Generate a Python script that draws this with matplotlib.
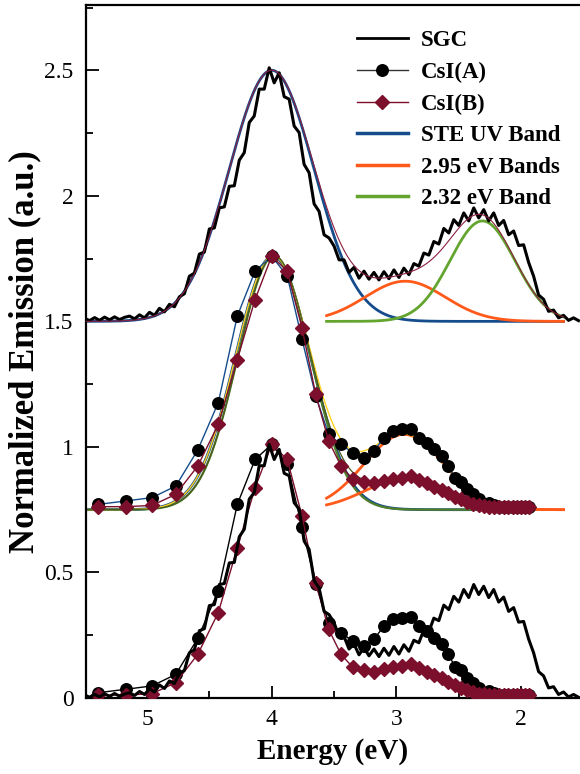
import matplotlib
matplotlib.use("Agg")
import matplotlib.pyplot as plt
import numpy as np
from matplotlib.ticker import MultipleLocator

plt.rcParams['font.family'] = ['Liberation Serif', 'DejaVu Serif']

# SGC spectrum (normalized, no offset), sampled from 5.50 eV down to 1.54 eV
sgc_values = [
    0.012, 0.003, 0.015, 0.004, 0.017, 0.006, 0.018, 0.007, 0.016, 0.021,
    0.010, 0.026, 0.014, 0.036, 0.024, 0.052, 0.038, 0.068, 0.058, 0.098,
    0.110, 0.180, 0.192, 0.268, 0.276, 0.368, 0.372, 0.452, 0.456, 0.538,
    0.540, 0.642, 0.672, 0.792, 0.818, 0.925, 0.925, 1.010, 0.950, 0.990,
    0.895, 0.885, 0.778, 0.752, 0.625, 0.592, 0.468, 0.438, 0.345, 0.332,
    0.300, 0.245, 0.245, 0.195, 0.215, 0.172, 0.200, 0.168, 0.195, 0.165,
    0.198, 0.170, 0.205, 0.175, 0.212, 0.186, 0.230, 0.220, 0.272, 0.264,
    0.318, 0.308, 0.370, 0.352, 0.405, 0.382, 0.432, 0.400, 0.452, 0.412,
    0.445, 0.400, 0.432, 0.382, 0.402, 0.345, 0.360, 0.302, 0.305, 0.235,
    0.180, 0.105, 0.088, 0.040, 0.045, 0.014, 0.024, 0.004, 0.014, 0.003,
]
sgc_energy = np.linspace(5.50, 1.54, len(sgc_values))

# CsI crystals measured every 10 nm
csi_wavelength = [230, 240, 250, 260, 270, 280, 290, 300, 310, 320,
                  330, 340, 350, 360, 370, 380, 390, 400, 410, 420,
                  430, 440, 450, 460, 470, 480, 490, 500, 510, 520,
                  530, 540, 550, 560, 570, 580, 590, 600, 610, 620,
                  630, 640]
csi_a = [0.021, 0.035, 0.048, 0.094, 0.238, 0.426, 0.771, 0.950, 1.010, 0.930,
         0.680, 0.453, 0.300, 0.260, 0.227, 0.207, 0.234, 0.287, 0.313, 0.320,
         0.322, 0.287, 0.267, 0.240, 0.214, 0.174, 0.125, 0.110, 0.081, 0.061,
         0.041, 0.021, 0.028, 0.020, 0.012, 0.010, 0.010, 0.012, 0.012, 0.010,
         0.010, 0.010]
csi_b = [0.012, 0.012, 0.017, 0.061, 0.174, 0.340, 0.598, 0.837, 1.010, 0.950,
         0.725, 0.459, 0.273, 0.174, 0.123, 0.110, 0.105, 0.114, 0.123, 0.127,
         0.134, 0.118, 0.105, 0.092, 0.078, 0.065, 0.052, 0.041, 0.031, 0.023,
         0.017, 0.014, 0.012, 0.012, 0.011, 0.011, 0.011, 0.011, 0.011, 0.011,
         0.011, 0.011]
csi_energy = 1240.0 / np.array(csi_wavelength)

# fitted gaussian bands: (center eV, amplitude, sigma eV)
top_offset = 1.5
mid_offset = 0.75
sgc_ste = (4.00, 1.00, 0.34)
sgc_295 = (2.93, 0.16, 0.32)
sgc_232 = (2.31, 0.40, 0.26)
csia_ste = (3.99, 1.01, 0.30)
csib_ste = (3.98, 1.01, 0.29)
csia_295 = (2.94, 0.30, 0.32)
csib_295 = (2.92, 0.125, 0.33)

c_blue = '#154c8c'
c_orange = '#ff5a1a'
c_green = '#63a52f'
c_maroon = '#7b0f2c'


def gauss(e, band):
    c, a, s = band
    return a * np.exp(-(e - c) ** 2 / (2 * s ** 2))


fig = plt.figure(figsize=(5.8, 7.74), dpi=100)
ax = fig.add_axes([86 / 580, 1 - 698 / 774, 494 / 580, 693 / 774])

e_full = np.linspace(5.49, 1.66, 400)
e_mid = np.linspace(5.49, 1.90, 400)
e_band = np.linspace(3.56, 1.66, 300)

# ---- top: SGC + fit
ax.plot(e_full, top_offset + gauss(e_full, sgc_ste), color=c_blue, lw=2.0, zorder=2)
ax.plot(e_band, top_offset + gauss(e_band, sgc_295), color=c_orange, lw=2.0, zorder=2)
ax.plot(e_band, top_offset + gauss(e_band, sgc_232), color=c_green, lw=2.0, zorder=2)
ax.plot(sgc_energy, top_offset + np.array(sgc_values), color='black', lw=2.2, zorder=3)
top_sum = gauss(e_full, sgc_ste) + gauss(e_full, sgc_295) + gauss(e_full, sgc_232)
ax.plot(e_full, top_offset + top_sum, color='#8b2040', lw=0.8, zorder=4)

# ---- middle: CsI + fits
ax.plot(e_mid, mid_offset + gauss(e_mid, csia_ste), color=c_blue, lw=2.0, zorder=2)
ax.plot(e_mid, mid_offset + gauss(e_mid, csib_ste), color='#4f7f2a', lw=1.6, zorder=2)
ax.plot(e_band, mid_offset + gauss(e_band, csia_295), color=c_orange, lw=2.0, zorder=2)
ax.plot(e_band, mid_offset + gauss(e_band, csib_295), color=c_orange, lw=2.0, zorder=2)
ax.plot(e_mid, mid_offset + gauss(e_mid, csia_ste) + gauss(e_mid, csia_295),
        color='#ffd21f', lw=1.0, zorder=2.5)
ax.plot(e_mid, mid_offset + gauss(e_mid, csib_ste) + gauss(e_mid, csib_295),
        color='#4a5a20', lw=0.9, zorder=2.5)
ax.plot(csi_energy, mid_offset + np.array(csi_a), color=c_blue, lw=1.0,
        marker='o', ms=8.3, mfc='black', mec='black', zorder=3)
ax.plot(csi_energy, mid_offset + np.array(csi_b), color=c_maroon, lw=1.0,
        marker='D', ms=6.8, mfc=c_maroon, mec=c_maroon, zorder=3.5)

# ---- bottom: raw comparison
ax.plot(csi_energy, csi_a, color='black', lw=1.0, marker='o', ms=8.3,
        mfc='black', mec='black', zorder=3)
ax.plot(csi_energy, csi_b, color=c_maroon, lw=1.0, marker='D', ms=6.8,
        mfc=c_maroon, mec=c_maroon, zorder=3.5)
ax.plot(sgc_energy, sgc_values, color='black', lw=2.2, zorder=4)

# legend handles
h_sgc, = ax.plot([], [], color='black', lw=2.0)
h_a, = ax.plot([], [], color='#333333', lw=1.0, marker='o', ms=8.3, mfc='black', mec='black')
h_b, = ax.plot([], [], color=c_maroon, lw=1.0, marker='D', ms=6.8, mfc=c_maroon, mec=c_maroon)
h_ste, = ax.plot([], [], color=c_blue, lw=2.5)
h_295, = ax.plot([], [], color=c_orange, lw=2.5)
h_232, = ax.plot([], [], color=c_green, lw=2.5)
ax.legend([h_sgc, h_a, h_b, h_ste, h_295, h_232],
          ['SGC', 'CsI(A)', 'CsI(B)', 'STE UV Band', '2.95 eV Bands', '2.32 eV Band'],
          loc='upper left', bbox_to_anchor=(0.549, 0.9635), frameon=False,
          prop={'weight': 'bold', 'size': 16.5}, handlelength=2.2,
          handletextpad=0.57, labelspacing=0.46, borderpad=0, borderaxespad=0)

ax.set_xlim(5.489, 1.528)
ax.set_ylim(0, 2.76)
ax.xaxis.set_minor_locator(MultipleLocator(0.5))
ax.yaxis.set_minor_locator(MultipleLocator(0.25))
ax.set_yticks([0, 0.5, 1, 1.5, 2, 2.5])
ax.set_yticklabels(['0', '0.5', '1', '1.5', '2', '2.5'])
ax.set_xticks([5, 4, 3, 2])
ax.set_xticklabels(['5', '4', '3', '2'])
ax.tick_params(which='both', direction='in', width=1.3, labelsize=17, top=False, right=False)
ax.tick_params(which='major', length=9)
ax.tick_params(which='minor', length=5)
ax.tick_params(axis='x', pad=8)
ax.tick_params(axis='y', pad=9)
for s in ['left', 'bottom', 'top']:
    ax.spines[s].set_linewidth(1.6)
ax.spines['right'].set_visible(False)

ax.set_xlabel('Energy (eV)', fontsize=21, fontweight='bold', labelpad=6)
ax.set_ylabel('Normalized Emission (a.u.)', fontsize=25, fontweight='bold', labelpad=2)

fig.savefig('out.png', dpi=100)
